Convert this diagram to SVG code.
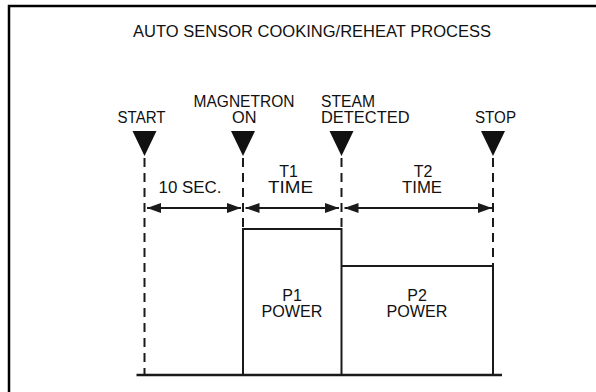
<svg xmlns="http://www.w3.org/2000/svg" width="596" height="392" viewBox="0 0 596 392">
<defs>
<style>
.t{font-family:"Liberation Sans",Arial,Helvetica,sans-serif;font-size:16px;fill:#111}
.m{text-anchor:middle}
.ln{stroke:#1a1a1a;stroke-width:2;fill:none}
.dash{stroke:#1a1a1a;stroke-width:2;stroke-dasharray:9 6;fill:none}
.tri{fill:#111}
</style>
<marker id="ah" viewBox="0 0 14 10" refX="14" refY="5" markerWidth="14" markerHeight="10" markerUnits="userSpaceOnUse" orient="auto-start-reverse">
<path d="M0,0 L14,5 L0,10 Z" fill="#1a1a1a"/>
</marker>
</defs>
<rect width="596" height="392" fill="#fff"/>
<path d="M9,392 V6 H596" fill="none" stroke="#000" stroke-width="2.5"/>
<text id="title" class="t" x="133" y="37" font-size="16.5" textLength="358" lengthAdjust="spacingAndGlyphs">AUTO SENSOR COOKING/REHEAT PROCESS</text>

<g id="start">
<text class="t" x="117.5" y="123" textLength="48" lengthAdjust="spacingAndGlyphs">START</text>
<polygon class="tri" points="132.5,131 156.5,131 144.5,156"/>
</g>
<g id="magnetron">
<text class="t" x="193.5" y="107" textLength="101" lengthAdjust="spacingAndGlyphs">MAGNETRON</text>
<text class="t" x="232" y="123" textLength="24.5" lengthAdjust="spacingAndGlyphs">ON</text>
<polygon class="tri" points="231,131 255,131 243,156"/>
</g>
<g id="steam">
<text class="t" x="321" y="107" textLength="54" lengthAdjust="spacingAndGlyphs">STEAM</text>
<text class="t" x="321" y="123" textLength="88.5" lengthAdjust="spacingAndGlyphs">DETECTED</text>
<polygon class="tri" points="329.5,131 353.5,131 341.5,156"/>
</g>
<g id="stop">
<text class="t" x="475" y="123" textLength="41" lengthAdjust="spacingAndGlyphs">STOP</text>
<polygon class="tri" points="481,131 505,131 493,156"/>
</g>

<g id="connectors">
<line class="dash" x1="144.5" y1="158" x2="144.5" y2="375"/>
<line class="dash" x1="243" y1="158" x2="243" y2="229"/>
<line class="dash" x1="341.5" y1="158" x2="341.5" y2="229"/>
<line class="dash" x1="493" y1="158" x2="493" y2="266"/>
<line class="ln" x1="147" y1="208" x2="241" y2="208" marker-start="url(#ah)" marker-end="url(#ah)"/>
<line class="ln" x1="245.5" y1="208" x2="339" y2="208" marker-start="url(#ah)" marker-end="url(#ah)"/>
<line class="ln" x1="344.5" y1="208" x2="492" y2="208" marker-start="url(#ah)" marker-end="url(#ah)"/>
<line x1="136.5" y1="375" x2="502" y2="375" stroke="#1a1a1a" stroke-width="2.5"/>
</g>

<g id="ten-sec">
<text class="t" x="158.5" y="193" textLength="63" lengthAdjust="spacingAndGlyphs">10 SEC.</text>
</g>
<g id="t1">
<text class="t m" x="288.5" y="177">T1</text>
<text class="t" x="268" y="193" textLength="45" lengthAdjust="spacingAndGlyphs">TIME</text>
</g>
<g id="t2">
<text class="t m" x="423" y="177">T2</text>
<text class="t" x="402" y="193" textLength="40" lengthAdjust="spacingAndGlyphs">TIME</text>
</g>

<g id="p1">
<path class="ln" d="M243,375 V229 H341.5 V375"/>
<text class="t m" x="292" y="301">P1</text>
<text class="t m" x="292" y="317" textLength="61" lengthAdjust="spacingAndGlyphs">POWER</text>
</g>
<g id="p2">
<path class="ln" d="M341.5,266 H493 V375"/>
<text class="t m" x="417" y="301">P2</text>
<text class="t m" x="417" y="317" textLength="61" lengthAdjust="spacingAndGlyphs">POWER</text>
</g>
</svg>
